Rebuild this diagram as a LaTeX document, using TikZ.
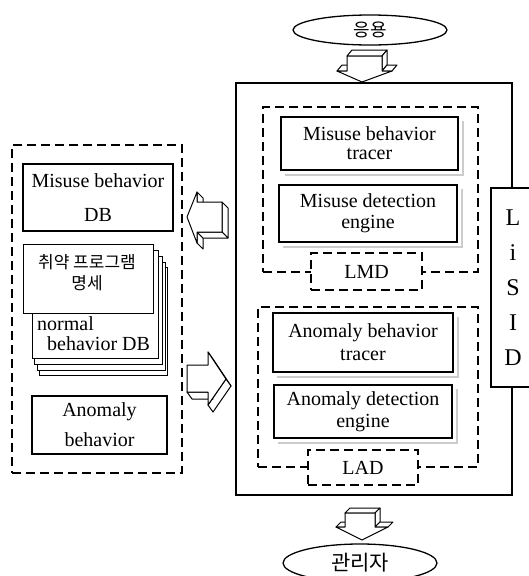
\documentclass[tikz,border=0pt]{standalone}
\usepackage{fontspec}
\setmainfont{Liberation Serif}
\newfontfamily\krfont{Noto Sans CJK KR}
\usetikzlibrary{shapes.geometric}
\begin{document}
\begin{tikzpicture}[x=1pt,y=-1pt,
  box/.style={draw, line width=1.1pt, fill=white, inner sep=0pt, align=center},
  dbox/.style={draw, line width=2.6pt, dash pattern=on 9pt off 5pt, inner sep=0pt},
  shadeln/.style={draw=gray!40, line width=2pt},
  arr/.style={draw, line width=1pt, fill=white, line join=round},
  oval/.style={ellipse, draw, line width=1.3pt, inner sep=0pt},
  card/.style={draw, line width=1pt, fill=white, inner sep=0pt},
  txt/.style={inner sep=0pt, font=\fontsize{20}{22}\selectfont}
]
\useasboundingbox (0,0) rectangle (529,576);

% ---------- top / bottom ovals ----------
\node[oval, minimum width=154, minimum height=30, font=\krfont\fontsize{18}{20}\selectfont] (app) at (370,30) {응용};
\node[oval, minimum width=154, minimum height=38, font=\krfont\fontsize{21}{24}\selectfont] (admin) at (360,563) {관리자};

% ---------- main box ----------
\node[draw, line width=1.6pt, minimum width=276, minimum height=412, inner sep=0pt] (main) at (374,289) {};

% top block arrow (down), depth (5,-6)
\path[arr] (347,56) -- (382,56) -- (387,50) -- (352,50) -- cycle;
\path[arr] (382,56) -- (382,71) -- (387,65) -- (387,50) -- cycle;
\path[arr] (382,71) -- (392,71) -- (397,65) -- (387,65) -- cycle;
\path[arr] (337,71) -- (347,71) -- (352,65) -- (342,65) -- cycle;
\path[arr] (347,56) -- (382,56) -- (382,71) -- (392,71) -- (362,82) -- (337,71) -- (347,71) -- cycle;

% bottom block arrow (down), depth (5,-5)
\path[arr] (345,513) -- (375,513) -- (380,508) -- (350,508) -- cycle;
\path[arr] (375,513) -- (375,527) -- (380,522) -- (380,508) -- cycle;
\path[arr] (375,527) -- (388,527) -- (393,522) -- (380,522) -- cycle;
\path[arr] (336,527) -- (345,527) -- (350,522) -- (341,522) -- cycle;
\path[arr] (345,513) -- (375,513) -- (375,527) -- (388,527) -- (362,540) -- (336,527) -- (345,527) -- cycle;

% ---------- LMD group ----------
\node[dbox, minimum width=215, minimum height=165] (lmdgrp) at (370.5,189.5) {};
\draw[shadeln] (463,121) -- (463,175) -- (285,175);
\node[box, minimum width=177, minimum height=53, font=\fontsize{20}{19}\selectfont] (mbt) at (369.5,143.5) {Misuse behavior\\tracer};
\draw[shadeln] (462,189) -- (462,247) -- (283,247);
\node[box, minimum width=178, minimum height=57, font=\fontsize{20}{21}\selectfont] (mde) at (368,213.5) {Misuse detection\\engine};
\node[dbox, fill=white, minimum width=111, minimum height=37, font=\fontsize{20}{22}\selectfont] (lmd) at (366.5,271.5) {LMD};

% ---------- LAD group ----------
\node[dbox, minimum width=220, minimum height=160] (ladgrp) at (368,387) {};
\draw[shadeln] (458,317) -- (458,377) -- (277,377);
\node[box, minimum width=180, minimum height=59, font=\fontsize{20}{23}\selectfont] (abt) at (363,342.5) {Anomaly behavior\\tracer};
\draw[shadeln] (457,389) -- (457,443) -- (278,443);
\node[box, minimum width=178, minimum height=53, font=\fontsize{20}{22}\selectfont] (ade) at (363,411.5) {Anomaly detection\\engine};
\node[dbox, fill=white, minimum width=110, minimum height=35, font=\fontsize{20}{22}\selectfont] (lad) at (363,467.5) {LAD};

% ---------- LISID ----------
\node[box, line width=1.3pt, minimum width=44, minimum height=199, font=\fontsize{24}{35}\selectfont] (lisid) at (513,287.5) {L\\i\\S\\I\\D};

% ---------- left group ----------
\node[dbox, minimum width=170, minimum height=328] (leftgrp) at (97,309) {};
\node[box, minimum width=150, minimum height=67, font=\fontsize{20}{34}\selectfont] (mbdb) at (98,197.5) {Misuse behavior\\DB};

\node[card, minimum width=128, minimum height=108] (c5) at (103,321) {};
\node[card, minimum width=128, minimum height=108] (c4) at (101,316) {};
\node[card, minimum width=128, minimum height=108] (c3) at (98,310) {};
\node[card, minimum width=126, minimum height=108] (c2) at (95,304) {};
\node[txt, anchor=base west] (nrm) at (37,330) {normal};
\node[txt, anchor=base west] (nbdb) at (47,350) {behavior DB};
\node[card, minimum width=130, minimum height=69] (c1) at (88,278.5) {};
\node[inner sep=0pt, align=center, font=\krfont\fontsize{17}{21}\selectfont] (c1t) at (87,272.5) {취약 프로그램\\명세};

\node[box, minimum width=135, minimum height=58, font=\fontsize{20}{30}\selectfont] (ab) at (99.5,425) {Anomaly\\behavior};

% left-pointing block arrow, depth (6,6)
\path[arr] (197,192) -- (197,202) -- (203,208) -- (203,198) -- cycle;
\path[arr] (197,232) -- (197,243) -- (203,249) -- (203,238) -- cycle;
\path[arr] (222,202) -- (222,232) -- (228,238) -- (228,208) -- cycle;
\path[arr] (222,232) -- (197,232) -- (203,238) -- (228,238) -- cycle;
\path[arr] (187,217) -- (197,192) -- (197,202) -- (222,202) -- (222,232) -- (197,232) -- (197,243) -- cycle;

% right-pointing block arrow, depth (5,7)
\path[arr] (208,352) -- (226,379) -- (231,386) -- (213,359) -- cycle;
\path[arr] (226,379) -- (208,405) -- (213,412) -- (231,386) -- cycle;
\path[arr] (208,392) -- (187,392) -- (192,399) -- (213,399) -- cycle;
\path[arr] (187,365) -- (208,365) -- (208,352) -- (226,379) -- (208,405) -- (208,392) -- (187,392) -- cycle;
\end{tikzpicture}
\end{document}
